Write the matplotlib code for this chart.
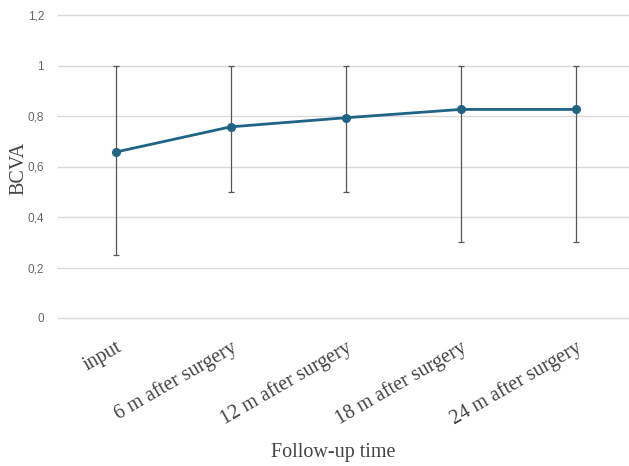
import matplotlib.pyplot as plt
import matplotlib.transforms as mtransforms
import numpy as np

# follow-up data
times = ["input", "6 m after surgery", "12 m after surgery",
         "18 m after surgery", "24 m after surgery"]
bcva_mean = [0.657, 0.757, 0.793, 0.826, 0.826]
bcva_min = [0.25, 0.5, 0.5, 0.3, 0.3]
bcva_max = [1.0, 1.0, 1.0, 1.0, 1.0]
yticks = [0, 0.2, 0.4, 0.6, 0.8, 1.0, 1.2]
ytick_labels = ["0", "0,2", "0,4", "0,6", "0,8", "1", "1,2"]

fig = plt.figure(figsize=(6.29, 4.66), dpi=100)
ax = fig.add_axes([58 / 629, 148 / 466, 575 / 629, 303 / 466])

x = np.arange(len(times))
mean = np.array(bcva_mean)
lower = mean - np.array(bcva_min)
upper = np.array(bcva_max) - mean

ax.errorbar(x, mean, yerr=[lower, upper], fmt="none", ecolor="#555555",
            elinewidth=0.9, capsize=2.5, capthick=0.9, zorder=2)
ax.plot(x, mean, color="#1f6385", lw=2.0, marker="o", markersize=5.5, zorder=3)

ax.set_xlim(-0.5, len(times) - 0.5)
ax.set_ylim(0, 1.2)
ax.set_yticks(yticks)
ax.set_yticklabels(ytick_labels, family="Liberation Sans", fontsize=8.5, color="#666666")
ax.set_xticks(x)
ax.set_xticklabels(times, family="Liberation Serif", fontsize=14.5, color="#444444",
                   rotation=30, ha="right", va="top", rotation_mode="anchor")
shift = mtransforms.ScaledTranslation(5 / 100, 0, fig.dpi_scale_trans)
for lbl in ax.get_xticklabels():
    lbl.set_transform(lbl.get_transform() + shift)
ax.tick_params(axis="both", length=0)
ax.tick_params(axis="y", pad=10)
ax.tick_params(axis="x", pad=14)
ax.grid(axis="y", color="#d9d9d9", lw=1)
for gl in ax.get_ygridlines():
    gl.set_clip_on(False)
ax.set_axisbelow(True)
for s in ax.spines.values():
    s.set_visible(False)

fig.text(19 / 629, 1 - 168 / 466, "BCVA", family="Liberation Serif", fontsize=14.5,
         color="#444444", rotation=90, ha="center", va="center")
fig.text(333 / 629, 13 / 466, "Follow-up time", family="Liberation Serif",
         fontsize=14.5, color="#444444", ha="center", va="center")

fig.savefig("out.png", dpi=100)
